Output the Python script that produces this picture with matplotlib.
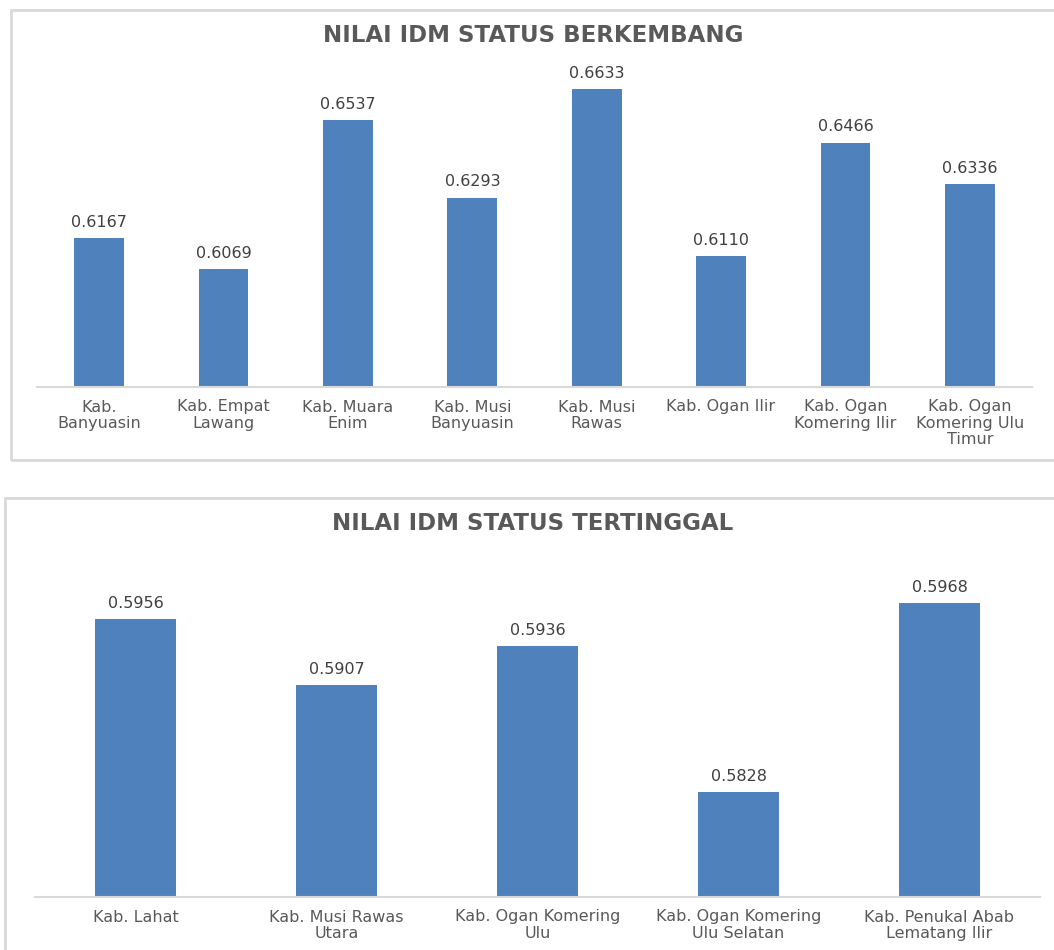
import matplotlib.pyplot as plt
from matplotlib.patches import Rectangle

# data
berkembang_labels = ['Kab.\nBanyuasin', 'Kab. Empat\nLawang', 'Kab. Muara\nEnim', 'Kab. Musi\nBanyuasin',
                     'Kab. Musi\nRawas', 'Kab. Ogan Ilir', 'Kab. Ogan\nKomering Ilir', 'Kab. Ogan\nKomering Ulu\nTimur']
berkembang_values = [0.6167, 0.6069, 0.6537, 0.6293, 0.6633, 0.6110, 0.6466, 0.6336]

tertinggal_labels = ['Kab. Lahat', 'Kab. Musi Rawas\nUtara', 'Kab. Ogan Komering\nUlu',
                     'Kab. Ogan Komering\nUlu Selatan', 'Kab. Penukal Abab\nLematang Ilir']
tertinggal_values = [0.5956, 0.5907, 0.5936, 0.5828, 0.5968]

W, H = 1054, 950
BAR = '#4f81bd'
TXT = '#595959'

plt.rcParams['font.family'] = ['DejaVu Sans']

fig = plt.figure(figsize=(W / 100, H / 100), dpi=100)

def px_axes(x0, y_top, x1, y_bot):
    return fig.add_axes([x0 / W, (H - y_bot) / H, (x1 - x0) / W, (y_bot - y_top) / H])

# chart borders
for (bx, by, bw, bh) in [(11, 10, 1060, 450), (5, 498, 1060, 470)]:
    fig.patches.append(Rectangle((bx / W, (H - by - bh) / H), bw / W, bh / H,
                                 transform=fig.transFigure, fill=False,
                                 edgecolor='#d9d9d9', linewidth=2))

def draw(ax, labels, values, ylim, title, title_y):
    x = range(len(values))
    bars = ax.bar(x, values, width=0.4, color=BAR, zorder=2)
    ax.set_ylim(*ylim)
    ax.set_xlim(-0.5, len(values) - 0.5)
    for b, v in zip(bars, values):
        ax.annotate('%.4f' % v, (b.get_x() + b.get_width() / 2, v), xytext=(0, 6),
                    textcoords='offset points', ha='center', va='bottom',
                    fontsize=11.5, color='#404040')
    ax.set_xticks(list(x))
    ax.set_xticklabels(labels, fontsize=11.5, color=TXT, linespacing=1.12)
    ax.tick_params(axis='x', length=0, pad=9)
    ax.set_yticks([])
    for s in ['top', 'left', 'right']:
        ax.spines[s].set_visible(False)
    ax.spines['bottom'].set_color('#d9d9d9')
    ax.spines['bottom'].set_linewidth(1.5)
    fig.text(533 / W, (H - title_y) / H, title, ha='center', va='center',
             fontsize=16.5, fontweight='bold', color=TXT)

ax1 = px_axes(37, 68, 1032, 387)
draw(ax1, berkembang_labels, berkembang_values, (0.57, 0.67), 'NILAI IDM STATUS BERKEMBANG', 35)

ax2 = px_axes(35, 560, 1040, 897)
draw(ax2, tertinggal_labels, tertinggal_values, (0.575, 0.60), 'NILAI IDM STATUS TERTINGGAL', 523)

fig.savefig('out.png', dpi=100)
